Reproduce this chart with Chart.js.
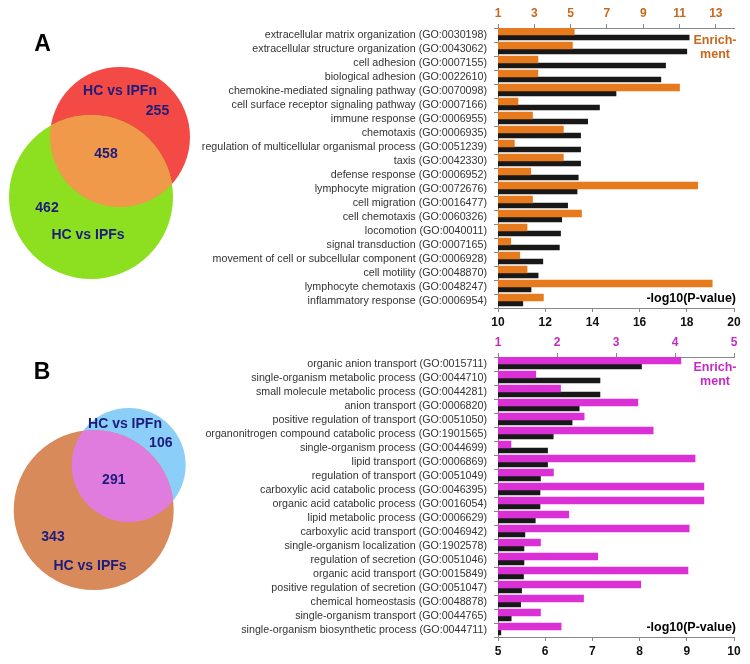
<!DOCTYPE html>
<html>
<head>
<meta charset="utf-8">
<script src="https://cdn.jsdelivr.net/npm/chart.js@4"></script>
<style>
body{margin:0;background:#fff;}
#wrap{position:relative;width:750px;height:664px;overflow:hidden;background:#fff;}
canvas{position:absolute;}
</style>
</head>
<body>
<div id="wrap">
<canvas id="vennA" width="230" height="330" style="left:0;top:0"></canvas>
<canvas id="vennB" width="230" height="334" style="left:0;top:330px"></canvas>
<canvas id="barA" width="600" height="335" style="left:150px;top:0"></canvas>
<canvas id="barB" width="600" height="335" style="left:150px;top:329px"></canvas>
</div>
<script>
// ---- data ----
const setNames = ['HC vs IPFn', 'HC vs IPFs'];
const countsA = [255, 458, 462];   // only IPFn, both, only IPFs
const countsB = [106, 291, 343];

const termsA = [
  'extracellular matrix organization (GO:0030198)',
  'extracellular structure organization (GO:0043062)',
  'cell adhesion (GO:0007155)',
  'biological adhesion (GO:0022610)',
  'chemokine-mediated signaling pathway (GO:0070098)',
  'cell surface receptor signaling pathway (GO:0007166)',
  'immune response (GO:0006955)',
  'chemotaxis (GO:0006935)',
  'regulation of multicellular organismal process (GO:0051239)',
  'taxis (GO:0042330)',
  'defense response (GO:0006952)',
  'lymphocyte migration (GO:0072676)',
  'cell migration (GO:0016477)',
  'cell chemotaxis (GO:0060326)',
  'locomotion (GO:0040011)',
  'signal transduction (GO:0007165)',
  'movement of cell or subcellular component (GO:0006928)',
  'cell motility (GO:0048870)',
  'lymphocyte chemotaxis (GO:0048247)',
  'inflammatory response (GO:0006954)'
];
const pvalA = [18.1, 18.0, 17.1, 16.9, 15.0, 14.3, 13.8, 13.5, 13.5, 13.5, 13.4, 13.35, 12.95, 12.7, 12.65, 12.6, 11.9, 11.7, 11.4, 11.05];
const enrichA = [5.2, 5.1, 3.2, 3.2, 11.0, 2.1, 2.9, 4.6, 1.9, 4.6, 2.8, 12.0, 2.9, 5.6, 2.6, 1.7, 2.2, 2.6, 12.8, 3.5];
const pTicksA = [10, 12, 14, 16, 18, 20];
const eTicksA = [1, 3, 5, 7, 9, 11, 13];
const eRangeA = [1, 14];

const termsB = [
  'organic anion transport (GO:0015711)',
  'single-organism metabolic process (GO:0044710)',
  'small molecule metabolic process (GO:0044281)',
  'anion transport (GO:0006820)',
  'positive regulation of transport (GO:0051050)',
  'organonitrogen compound catabolic process (GO:1901565)',
  'single-organism process (GO:0044699)',
  'lipid transport (GO:0006869)',
  'regulation of transport (GO:0051049)',
  'carboxylic acid catabolic process (GO:0046395)',
  'organic acid catabolic process (GO:0016054)',
  'lipid metabolic process (GO:0006629)',
  'carboxylic acid transport (GO:0046942)',
  'single-organism localization (GO:1902578)',
  'regulation of secretion (GO:0051046)',
  'organic acid transport (GO:0015849)',
  'positive regulation of secretion (GO:0051047)',
  'chemical homeostasis (GO:0048878)',
  'single-organism transport (GO:0044765)',
  'single-organism biosynthetic process (GO:0044711)'
];
const pvalB = [8.04, 7.16, 7.16, 6.72, 6.57, 6.17, 6.05, 6.05, 5.9, 5.89, 5.89, 5.79, 5.57, 5.55, 5.55, 5.54, 5.5, 5.48, 5.28, 5.06];
const enrichB = [4.1, 1.64, 2.06, 3.37, 2.46, 3.63, 1.22, 4.34, 1.94, 4.49, 4.49, 2.2, 4.24, 1.72, 2.69, 4.22, 3.42, 2.45, 1.72, 2.07];
const pTicksB = [5, 6, 7, 8, 9, 10];
const eTicksB = [1, 2, 3, 4, 5];
const eRangeB = [1, 5];

// ---- layout for the venn panels (canvas pixels) ----
const vennLayoutA = {
  circles: [{x: 120, y: 137, r: 70}, {x: 91, y: 197, r: 82}],
  name1: [120, 91], only1: [157.5, 111], both: [106, 154], only2: [47, 208], name2: [88, 235],
  panel: [42.5, 45]
};
const vennLayoutB = {
  circles: [{x: 128.7, y: 135, r: 57}, {x: 93.7, y: 180, r: 80}],
  name1: [125, 94], only1: [160.8, 113], both: [113.8, 150], only2: [53, 207], name2: [90, 236],
  panel: [42, 43]
};

Chart.defaults.font.family = 'Arial, "Liberation Sans", sans-serif';

const vennPlugin = {
  id: 'venn',
  afterDatasetsDraw(chart, args, opts) {
    const ctx = chart.ctx;
    const pts = chart.getDatasetMeta(0).data;
    const a = pts[0], b = pts[1];
    ctx.save();
    ctx.beginPath();
    ctx.arc(a.x, a.y, a.options.radius, 0, Math.PI * 2);
    ctx.clip();
    ctx.beginPath();
    ctx.arc(b.x, b.y, b.options.radius, 0, Math.PI * 2);
    ctx.fillStyle = opts.overlap;
    ctx.fill();
    ctx.restore();

    const xs = chart.scales.x, ys = chart.scales.y;
    const L = opts.layout;
    const put = (t, p) => ctx.fillText(t, xs.getPixelForValue(p[0]), ys.getPixelForValue(p[1]));
    ctx.save();
    ctx.textAlign = 'center';
    ctx.textBaseline = 'middle';
    ctx.fillStyle = '#1C1C7C';
    ctx.font = 'bold 14px Arial, "Liberation Sans", sans-serif';
    put(setNames[0], L.name1);
    put(String(opts.counts[0]), L.only1);
    put(String(opts.counts[1]), L.both);
    put(String(opts.counts[2]), L.only2);
    put(setNames[1], L.name2);
    ctx.fillStyle = '#000';
    ctx.font = 'bold 23px Arial, "Liberation Sans", sans-serif';
    put(opts.panel, L.panel);
    ctx.restore();
  }
};

function vennChart(id, layout, counts, colors, overlap, panel, h) {
  return new Chart(document.getElementById(id), {
    type: 'bubble',
    data: {
      datasets: [{
        data: layout.circles.map(c => ({x: c.x, y: c.y, r: c.r})),
        backgroundColor: colors,
        borderWidth: 0,
        clip: false
      }]
    },
    options: {
      responsive: false, animation: false, events: [],
      layout: {padding: 0, autoPadding: false},
      plugins: {legend: {display: false}, tooltip: {enabled: false},
        venn: {layout: layout, counts: counts, overlap: overlap, panel: panel}},
      scales: {
        x: {type: 'linear', min: 0, max: 230, display: false},
        y: {type: 'linear', min: 0, max: h, reverse: true, display: false}
      }
    },
    plugins: [vennPlugin]
  });
}

const cornerPlugin = {
  id: 'corner',
  afterDraw(chart, args, opts) {
    const {ctx, chartArea} = chart;
    ctx.save();
    ctx.font = 'bold 12.5px Arial, "Liberation Sans", sans-serif';
    ctx.textBaseline = 'middle';
    ctx.textAlign = 'center';
    ctx.fillStyle = opts.color;
    ctx.fillText('Enrich-', chartArea.right - 19, chartArea.top + opts.dy);
    ctx.fillText('ment', chartArea.right - 19, chartArea.top + opts.dy + 14);
    ctx.fillStyle = '#000';
    ctx.textAlign = 'right';
    ctx.fillText('-log10(P-value)', chartArea.right + 2, chartArea.bottom - 9);
    ctx.restore();
  }
};

function barChart(id, terms, pval, enrich, pTicks, eTicks, eRange, barColor, tickColor, dy) {
  const axisGrid = {drawOnChartArea: false, drawTicks: true, tickLength: 4, color: '#888'};
  return new Chart(document.getElementById(id), {
    type: 'bar',
    data: {
      labels: terms,
      datasets: [
        {label: 'Enrichment', data: enrich, xAxisID: 'xTop', backgroundColor: barColor, barThickness: 7},
        {label: '-log10(P-value)', data: pval, xAxisID: 'x', backgroundColor: '#181818', barThickness: 5}
      ]
    },
    options: {
      indexAxis: 'y', responsive: false, animation: false, events: [],
      layout: {padding: {left: 0, right: 16, top: 0, bottom: 0}},
      plugins: {legend: {display: false}, tooltip: {enabled: false}, corner: {color: tickColor, dy: dy}},
      scales: {
        y: {
          type: 'category',
          afterFit(s) { s.width = 348; },
          grid: axisGrid,
          border: {color: '#888'},
          ticks: {autoSkip: false, color: '#333', font: {size: 10.7}, padding: 7}
        },
        x: {
          type: 'linear', position: 'bottom',
          min: pTicks[0], max: pTicks[pTicks.length - 1],
          afterBuildTicks(s) { s.ticks = pTicks.map(v => ({value: v})); },
          afterFit(s) { s.height = 27; },
          grid: axisGrid,
          border: {color: '#888'},
          ticks: {color: '#111', font: {size: 12, weight: 'bold'}, padding: 3, maxRotation: 0}
        },
        xTop: {
          type: 'linear', position: 'top',
          min: eRange[0], max: eRange[1],
          afterBuildTicks(s) { s.ticks = eTicks.map(v => ({value: v})); },
          afterFit(s) { s.height = 28; },
          grid: axisGrid,
          border: {color: '#888'},
          ticks: {color: tickColor, font: {size: 12, weight: 'bold'}, padding: 3, maxRotation: 0}
        }
      }
    },
    plugins: [cornerPlugin]
  });
}

vennChart('vennA', vennLayoutA, countsA, ['#F44A46', '#8DE01F'], '#F1994B', 'A', 330);
vennChart('vennB', vennLayoutB, countsB, ['#8BCEF7', '#D88A5B'], '#E07CDE', 'B', 334);
barChart('barA', termsA, pvalA, enrichA, pTicksA, eTicksA, eRangeA, '#E87A1E', '#C8681C', 13);
barChart('barB', termsB, pvalB, enrichB, pTicksB, eTicksB, eRangeB, '#DA30D5', '#C42BC2', 11);
</script>
</body>
</html>
